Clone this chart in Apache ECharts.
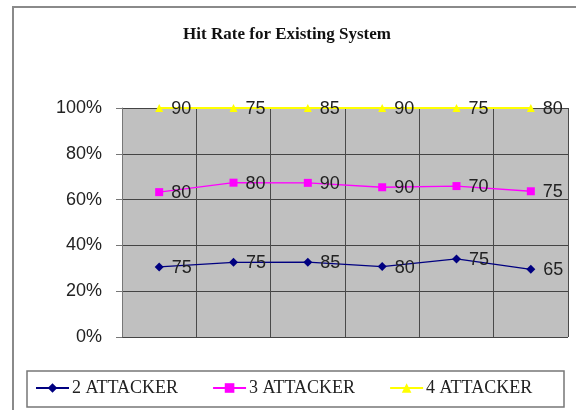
<!DOCTYPE html>
<html>
<head>
<meta charset="utf-8">
<style>html,body{margin:0;padding:0;background:#fff;}#c{width:576px;height:410px;}</style>
<script src="https://cdn.jsdelivr.net/npm/echarts@6/dist/echarts.min.js"></script>
</head>
<body>
<div id="c"></div>
<script>
var categories = ['1', '2', '3', '4', '5', '6'];
var attacker2 = [75, 75, 85, 80, 75, 65];
var attacker3 = [80, 80, 90, 90, 70, 75];
var attacker4 = [90, 75, 85, 90, 75, 80];
var seriesNames = ['2 ATTACKER', '3 ATTACKER', '4 ATTACKER'];
var yTicks = [0, 20, 40, 60, 80, 100];

// 100% stacked: share of each series in the column total
var totals = categories.map(function (_, i) { return attacker2[i] + attacker3[i] + attacker4[i]; });
function share(arr) { return arr.map(function (v, i) { return v / totals[i] * 100; }); }

var raw = [attacker2, attacker3, attacker4];
var colors = ['#000080', '#ff00ff', '#ffff00'];
var symbols = ['diamond', 'rect', 'triangle'];
var symbolSizes = [9, 8, 8];

var chart = echarts.init(document.getElementById('c'));
var series = raw.map(function (arr, k) {
  return {
    name: seriesNames[k],
    type: 'line',
    stack: 'total',
    data: share(arr),
    symbol: symbols[k],
    symbolSize: symbolSizes[k],
    showAllSymbol: true,
    lineStyle: { color: colors[k], width: k === 2 ? 2 : 1.3 },
    itemStyle: { color: colors[k] },
    label: {
      show: true,
      position: 'right',
      distance: 8,
      offset: [0, 1],
      formatter: function (p) { return raw[k][p.dataIndex]; },
      fontFamily: 'Liberation Sans',
      fontSize: 18,
      color: '#222'
    },
    emphasis: { disabled: true },
    animation: false,
    z: 3 + k
  };
});

chart.setOption({
  animation: false,
  backgroundColor: '#fff',
  title: {
    text: 'Hit Rate for Existing System',
    left: 282, top: 21, textAlign: 'center',
    textStyle: { fontFamily: 'Liberation Serif', fontWeight: 'bold', fontSize: 17, color: '#111', lineHeight: 17 }
  },
  graphic: [
    { type: 'rect', shape: { x: 13, y: 7, width: 620, height: 430 }, style: { fill: 'none', stroke: '#8a8a8a', lineWidth: 2 }, silent: true },
    { type: 'rect', shape: { x: 27, y: 371, width: 537, height: 36 }, style: { fill: 'none', stroke: '#777', lineWidth: 1.5 }, silent: true }
  ],
  legend: {
    data: seriesNames,
    left: 35, top: 379,
    padding: 0,
    itemGap: 34,
    itemWidth: 33, itemHeight: 12,
    textStyle: { fontFamily: 'Liberation Serif', fontSize: 18, color: '#222', lineHeight: 18, padding: [0, 0, 0, -2] },
    selectedMode: false
  },
  grid: {
    left: 122, right: 8, top: 108, bottom: 73,
    show: true, backgroundColor: '#c0c0c0', borderWidth: 0
  },
  xAxis: {
    type: 'category',
    data: categories,
    boundaryGap: true,
    axisLine: { show: false },
    axisTick: { show: false },
    axisLabel: { show: false },
    splitLine: { show: true, lineStyle: { color: '#4a4a4a', width: 1 } }
  },
  yAxis: {
    type: 'value',
    min: yTicks[0], max: yTicks[yTicks.length - 1], interval: 20,
    axisLine: { show: true, lineStyle: { color: '#777', width: 1 } },
    axisTick: { show: true, inside: false, length: 6, lineStyle: { color: '#777' } },
    axisLabel: {
      formatter: '{value}%',
      fontFamily: 'Liberation Sans', fontSize: 18, color: '#222', margin: 20
    },
    splitLine: { show: true, lineStyle: { color: '#444', width: 1 } }
  },
  series: series
});
</script>
</body>
</html>
